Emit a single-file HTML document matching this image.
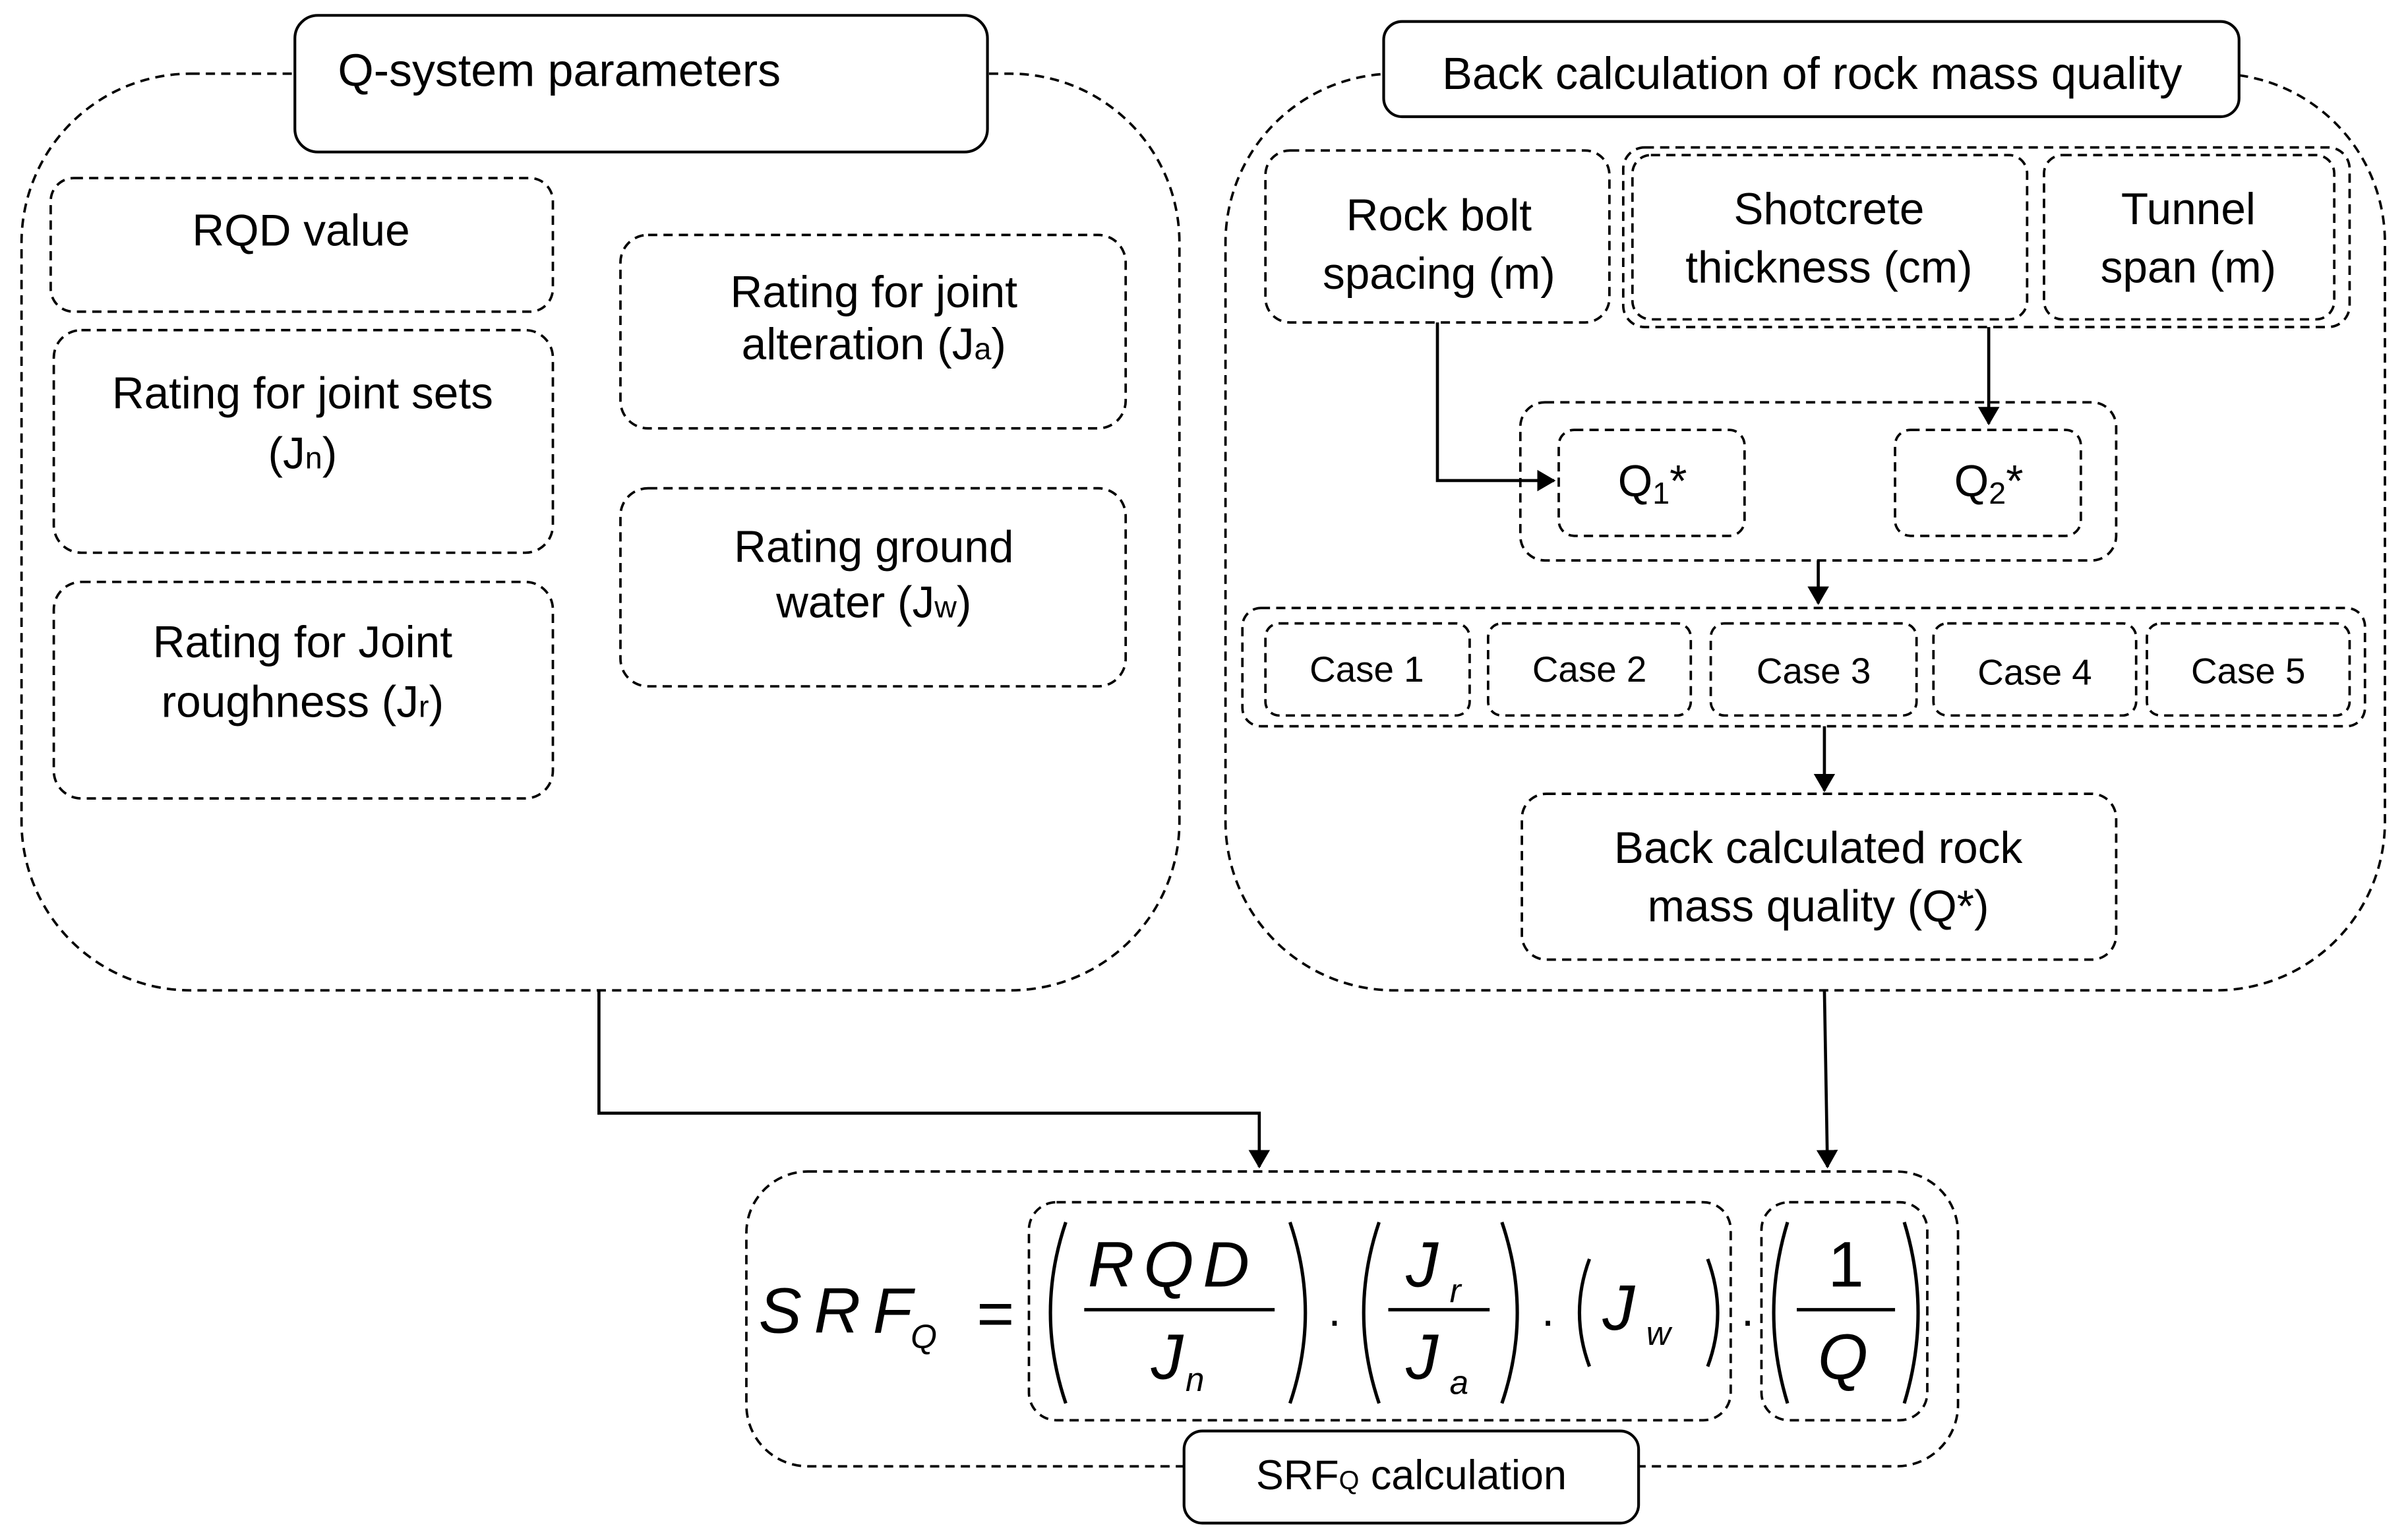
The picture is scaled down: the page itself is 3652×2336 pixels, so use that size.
<!DOCTYPE html>
<html><head><meta charset="utf-8"><style>
html,body{margin:0;padding:0;background:#fff;}
svg{display:block;}
text{font-family:"Liberation Sans",Arial,sans-serif;fill:#000;}
</style></head><body>
<svg width="3652" height="2336" viewBox="0 0 1568 1003" xmlns="http://www.w3.org/2000/svg">
<defs><marker id="a" markerWidth="12" markerHeight="14" refX="11" refY="7" orient="auto" markerUnits="userSpaceOnUse"><path d="M0,0 L12,7 L0,14 z" fill="#000"/></marker></defs>
<g fill="none" stroke="#000" stroke-width="1.6" stroke-dasharray="6,4">
<rect x="14" y="48" width="754" height="597" rx="110"/>
<rect x="798" y="48" width="755" height="597" rx="110"/>
<rect x="33" y="116" width="327" height="87" rx="15"/>
<rect x="35" y="215" width="325" height="145" rx="18"/>
<rect x="35" y="379" width="325" height="141" rx="18"/>
<rect x="404" y="153" width="329" height="126" rx="18"/>
<rect x="404" y="318" width="329" height="129" rx="18"/>
<rect x="824" y="98" width="224" height="112" rx="16"/>
<rect x="1057" y="96" width="473" height="117" rx="14"/>
<rect x="1063" y="101" width="257" height="107" rx="12"/>
<rect x="1331" y="101" width="189" height="107" rx="12"/>
<rect x="990" y="262" width="388" height="103" rx="16"/>
<rect x="1015" y="280" width="121" height="69" rx="10"/>
<rect x="1234" y="280" width="121" height="69" rx="10"/>
<rect x="809" y="396" width="731" height="77" rx="12"/>
<rect x="824" y="406" width="133" height="60" rx="9"/>
<rect x="969" y="406" width="132" height="60" rx="9"/>
<rect x="1114" y="406" width="134" height="60" rx="9"/>
<rect x="1259" y="406" width="132" height="60" rx="9"/>
<rect x="1398" y="406" width="132" height="60" rx="9"/>
<rect x="991" y="517" width="387" height="108" rx="16"/>
<rect x="486" y="763" width="789" height="192" rx="40"/>
<rect x="670" y="783" width="457" height="142" rx="18"/>
<rect x="1147" y="783" width="108" height="142" rx="18"/>
</g>
<g fill="#fff" stroke="#000" stroke-width="1.8">
<rect x="192" y="10" width="451" height="89" rx="15"/>
<rect x="901" y="14" width="557" height="62" rx="12"/>
<rect x="771" y="932" width="296" height="60" rx="12"/>
</g>
<g fill="none" stroke="#000" stroke-width="2">
<path d="M936,210 V313 H1012" marker-end="url(#a)"/>
<path d="M1295,213 V276" marker-end="url(#a)"/>
<path d="M1184,365 V393" marker-end="url(#a)"/>
<path d="M1188,473 V515" marker-end="url(#a)"/>
<path d="M390,645 V725 H820 V760" marker-end="url(#a)"/>
<path d="M1188,645 L1190,760" marker-end="url(#a)"/>
</g>
<g font-size="29">
<text x="220" y="56" font-size="30">Q-system parameters</text>
<text x="1180" y="58" text-anchor="middle" font-size="29.5">Back calculation of rock mass quality</text>
<text x="196" y="160" text-anchor="middle">RQD value</text>
<text x="197" y="266" text-anchor="middle">Rating for joint sets</text>
<text x="197" y="305" text-anchor="middle">(J<tspan font-size="20">n</tspan>)</text>
<text x="197" y="428" text-anchor="middle">Rating for Joint</text>
<text x="197" y="467" text-anchor="middle">roughness (J<tspan font-size="20">r</tspan>)</text>
<text x="569" y="200" text-anchor="middle">Rating for joint</text>
<text x="569" y="234" text-anchor="middle">alteration (J<tspan font-size="20">a</tspan>)</text>
<text x="569" y="366" text-anchor="middle">Rating ground</text>
<text x="569" y="402" text-anchor="middle">water (J<tspan font-size="20">w</tspan>)</text>
<text x="937" y="150" text-anchor="middle">Rock bolt</text>
<text x="937" y="188" text-anchor="middle">spacing (m)</text>
<text x="1191" y="146" text-anchor="middle">Shotcrete</text>
<text x="1191" y="184" text-anchor="middle">thickness (cm)</text>
<text x="1425" y="146" text-anchor="middle">Tunnel</text>
<text x="1425" y="184" text-anchor="middle">span (m)</text>
<text x="1076" y="323" text-anchor="middle">Q<tspan font-size="20" dy="5">1</tspan><tspan dy="-5">*</tspan></text>
<text x="1295" y="323" text-anchor="middle">Q<tspan font-size="20" dy="5">2</tspan><tspan dy="-5">*</tspan></text>
<text x="1184" y="562" text-anchor="middle">Back calculated rock</text>
<text x="1184" y="600" text-anchor="middle">mass quality (Q*)</text>
</g>
<g font-size="23.5" text-anchor="middle">
<text x="890" y="444">Case 1</text>
<text x="1035" y="444">Case 2</text>
<text x="1181" y="445">Case 3</text>
<text x="1325" y="446">Case 4</text>
<text x="1464" y="445">Case 5</text>
<text x="919" y="970" font-size="27">SRF<tspan font-size="17">Q</tspan> calculation</text>
</g>
<g font-style="italic" font-size="42">
<text x="494" y="868" letter-spacing="8">SRF</text>
<text x="593" y="878" font-size="22">Q</text>
<text x="636" y="870" font-style="normal">=</text>
<text x="764" y="838" text-anchor="middle" letter-spacing="6">RQD</text>
<text x="760" y="898" text-anchor="middle">J</text><text x="772" y="906" font-size="22">n</text>
<text x="926" y="838" text-anchor="middle">J</text><text x="944" y="848" font-size="22">r</text>
<text x="926" y="898" text-anchor="middle">J</text><text x="944" y="908" font-size="22">a</text>
<text x="1054" y="866" text-anchor="middle">J</text><text x="1072" y="876" font-size="22">w</text>
<text x="1202" y="838" text-anchor="middle" font-style="normal">1</text>
<text x="1200" y="898" text-anchor="middle">Q</text>
<text x="864" y="870" font-style="normal" font-size="30">·</text>
<text x="1003" y="870" font-style="normal" font-size="30">·</text>
<text x="1133" y="870" font-style="normal" font-size="30">·</text>
</g>
<g fill="none" stroke="#000" stroke-width="2.2">
<line x1="706" y1="853" x2="830" y2="853"/>
<line x1="904" y1="853" x2="970" y2="853"/>
<line x1="1170" y1="853" x2="1234" y2="853"/>
<path d="M694,796 Q674,855 694,914"/><path d="M840,796 Q860,855 840,914"/>
<path d="M898,796 Q878,855 898,914"/><path d="M978,796 Q998,855 978,914"/>
<path d="M1035,820 Q1022,855 1035,890"/><path d="M1112,820 Q1125,855 1112,890"/>
<path d="M1164,796 Q1146,855 1164,914"/><path d="M1240,796 Q1258,855 1240,914"/>
</g>
</svg>
</body></html>
